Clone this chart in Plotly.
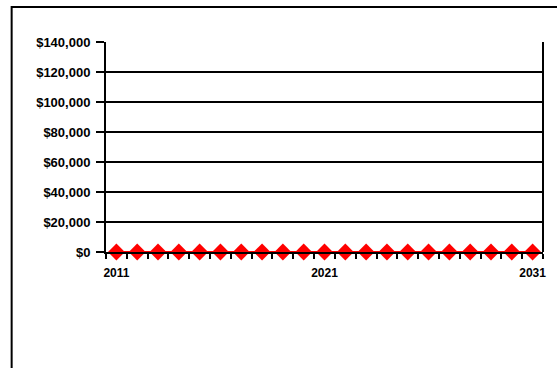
import plotly.graph_objects as go

# Annual values, 2011-2031
years = [2011, 2012, 2013, 2014, 2015, 2016, 2017, 2018, 2019, 2020, 2021,
         2022, 2023, 2024, 2025, 2026, 2027, 2028, 2029, 2030, 2031]
values = [0, 0, 0, 0, 0, 0, 0, 0, 0, 0, 0,
          0, 0, 0, 0, 0, 0, 0, 0, 0, 0]

x_labels = [2011, 2021, 2031]
y_ticks = [0, 20000, 40000, 60000, 80000, 100000, 120000, 140000]
y_labels = ["$0", "$20,000", "$40,000", "$60,000", "$80,000",
            "$100,000", "$120,000", "$140,000"]

font_family = "Liberation Sans, Arial, sans-serif"

fig = go.Figure()
fig.add_trace(go.Scatter(
    x=years, y=values, mode="lines+markers",
    line=dict(color="#ff0000", width=2),
    marker=dict(symbol="diamond", size=13, color="#ff0000",
                line=dict(width=0)),
    cliponaxis=False, showlegend=False,
))

fig.update_layout(
    width=557, height=368,
    margin=dict(l=106, r=11, t=42, b=116),
    paper_bgcolor="white", plot_bgcolor="white",
    font=dict(family=font_family, size=12, color="black"),
    xaxis=dict(
        range=[years[0] - 0.5, years[-1] + 0.5],
        tickvals=x_labels, ticktext=[f"<b>{v}</b>" for v in x_labels],
        ticks="", showgrid=False, zeroline=False,
        showline=True, linecolor="black", linewidth=2, mirror=False,
        tickfont=dict(size=12), ticklabelstandoff=9,
        minor=dict(ticks="outside", tick0=years[0] - 0.5, dtick=1,
                   ticklen=5, tickwidth=2, tickcolor="black", showgrid=False),
    ),
    yaxis=dict(
        range=[0, 140000],
        tickvals=y_ticks, ticktext=[f"<b>{t}</b>" for t in y_labels],
        ticks="outside", ticklen=8, tickwidth=2, tickcolor="black",
        showgrid=True, gridcolor="black", gridwidth=2, zeroline=False,
        showline=True, linecolor="black", linewidth=2,
        tickfont=dict(size=13), ticklabelstandoff=3,
    ),
)

# Plot-area frame (right side) and outer chart border
fig.add_shape(type="line", xref="x domain", yref="y domain",
              x0=1, x1=1, y0=0, y1=1, line=dict(color="black", width=2))
fig.add_shape(type="rect", xref="paper", yref="paper",
              x0=(11 - 106) / 440, x1=1.2, y0=1 + (42 - 7) / 210, y1=-1,
              line=dict(color="black", width=2), layer="above")

fig.write_html("out.html")
